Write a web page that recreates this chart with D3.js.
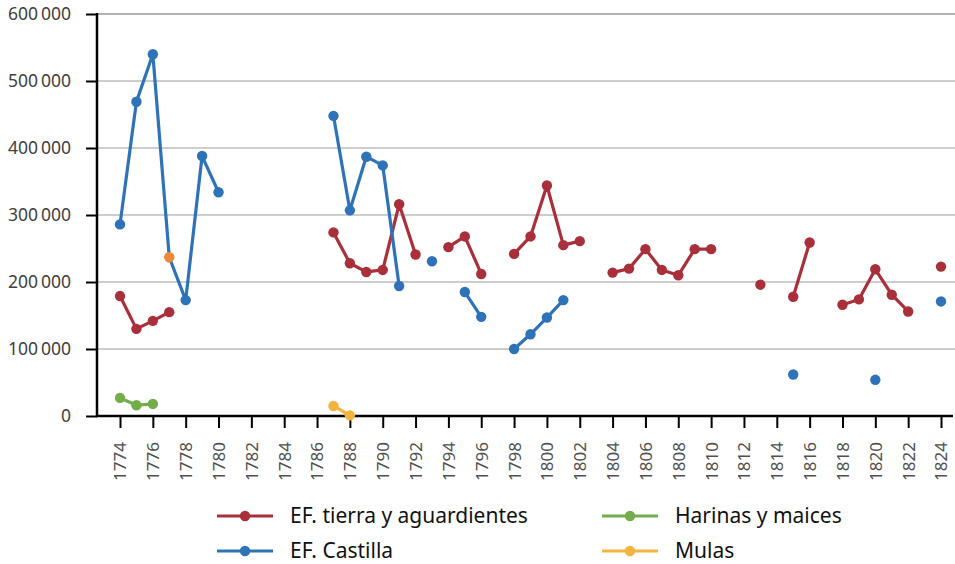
<!DOCTYPE html>
<html>
<head>
<meta charset="utf-8">
<script src="https://cdn.jsdelivr.net/npm/d3@7"></script>
<style>
  body { margin: 0; background: #fff; }
  text { font-family: "Noto Sans", sans-serif; }
</style>
</head>
<body>
<svg id="chart" width="955" height="564"></svg>
<script>
// years 1774..1824, null = no data
var years = d3.range(1774, 1825);
var xTickLabels = d3.range(1774, 1825, 2);
var yTicks = [0, 100000, 200000, 300000, 400000, 500000, 600000];

var tierra = [
  179000, 130000, 142000, 155000, null, null, null, null, null, null,
  null, null, null, 274000, 228000, 215000, 218000, 316000, 241000, null,
  252000, 268000, 212000, null, 242000, 268000, 344000, 255000, 261000, null,
  214000, 220000, 249000, 218000, 210000, 249000, 249000, null, null, 196000,
  null, 178000, 259000, null, 166000, 174000, 219000, 181000, 156000, null,
  223000
];
var castilla = [
  286000, 469000, 540000, 237000, 173000, 388000, 334000, null, null, null,
  null, null, null, 448000, 307000, 387000, 374000, 194000, null, 231000,
  null, 185000, 148000, null, 100000, 122000, 147000, 173000, null, null,
  null, null, null, null, null, null, null, null, null, null,
  null, 62000, null, null, null, null, 54000, null, null, null,
  171000
];
var harinas = [27000, 16000, 18000];
var mulas = [
  null, null, null, null, null, null, null, null, null, null,
  null, null, null, 15000, 1000
];
// single point drawn in orange on the Castilla line (1777)
var highlightYear = 1777;

var series = [
  { name: "EF. tierra y aguardientes", color: "#a9303b", values: tierra },
  { name: "EF. Castilla", color: "#2e73b8", values: castilla },
  { name: "Harinas y maices", color: "#72ad4a", values: harinas },
  { name: "Mulas", color: "#f3b43f", values: mulas }
];

var svg = d3.select("#chart");
var mLeft = 97, mRight = 953, mTop = 14, mBottom = 416;

var x = d3.scaleLinear().domain([1774, 1824]).range([120, 941]);
var y = d3.scaleLinear().domain([0, 600000]).range([mBottom, mTop]);

// gridlines
svg.append("g").selectAll("line")
  .data(yTicks.slice(1))
  .enter().append("line")
  .attr("x1", mLeft).attr("x2", 955)
  .attr("y1", function (d) { return y(d); })
  .attr("y2", function (d) { return y(d); })
  .attr("stroke", function (d) { return d === 600000 ? "#999" : "#bdbdbd"; })
  .attr("stroke-width", 1.5);

// y axis
var yAxis = d3.axisLeft(y).tickValues(yTicks).tickSize(11).tickPadding(15)
  .tickFormat(function (d) { return d3.format(",")(d).replace(/,/g, "\u2009"); });
var gy = svg.append("g").attr("transform", "translate(" + mLeft + ",0)").call(yAxis);
gy.select(".domain").remove();
gy.selectAll(".tick line").attr("stroke", "#000").attr("stroke-width", 2);
gy.selectAll(".tick text").attr("font-size", 17.5).attr("fill", "#404040")
  .attr("font-family", "'Noto Sans', sans-serif");
svg.append("line").attr("x1", mLeft).attr("x2", mLeft).attr("y1", mTop - 1).attr("y2", mBottom + 1)
  .attr("stroke", "#000").attr("stroke-width", 2.5);

// x axis
var xAxis = d3.axisBottom(x).tickValues(xTickLabels).tickSize(12).tickPadding(4)
  .tickFormat(d3.format("d"));
var gx = svg.append("g").attr("transform", "translate(0," + mBottom + ")").call(xAxis);
gx.select(".domain").remove();
gx.selectAll(".tick line").attr("stroke", "#000").attr("stroke-width", 2);
gx.selectAll(".tick text")
  .attr("font-size", 17).attr("fill", "#505050")
  .attr("font-family", "'Noto Sans', sans-serif")
  .attr("transform", "rotate(-90)")
  .attr("text-anchor", "end")
  .attr("x", -26).attr("y", 0).attr("dy", "0.35em");
svg.append("line").attr("x1", mLeft - 1).attr("x2", mRight).attr("y1", mBottom).attr("y2", mBottom)
  .attr("stroke", "#000").attr("stroke-width", 2.5);

// lines + markers
var line = d3.line()
  .defined(function (d) { return d.v !== null; })
  .x(function (d) { return x(d.year); })
  .y(function (d) { return y(d.v); });

series.forEach(function (s) {
  var pts = s.values.map(function (v, i) { return { year: years[i], v: v }; });
  var g = svg.append("g");
  g.append("path").datum(pts)
    .attr("d", line)
    .attr("fill", "none")
    .attr("stroke", s.color)
    .attr("stroke-width", 3.2)
    .attr("stroke-linejoin", "round");
  g.selectAll("circle")
    .data(pts.filter(function (d) { return d.v !== null; }))
    .enter().append("circle")
    .attr("cx", function (d) { return x(d.year); })
    .attr("cy", function (d) { return y(d.v); })
    .attr("r", 5.2)
    .attr("fill", function (d) {
      return (s.values === castilla && d.year === highlightYear) ? "#ee8a35" : s.color;
    });
});

// legend
var legendItems = [
  { s: series[0], lx: 217, ly: 516 },
  { s: series[1], lx: 217, ly: 551 },
  { s: series[2], lx: 602, ly: 516 },
  { s: series[3], lx: 602, ly: 551 }
];
var lg = svg.append("g").selectAll("g").data(legendItems).enter().append("g")
  .attr("transform", function (d) { return "translate(" + d.lx + "," + d.ly + ")"; });
lg.append("line").attr("x1", 0).attr("x2", 56).attr("y1", 0).attr("y2", 0)
  .attr("stroke", function (d) { return d.s.color; }).attr("stroke-width", 3.2);
lg.append("circle").attr("cx", 28).attr("cy", 0).attr("r", 5.2)
  .attr("fill", function (d) { return d.s.color; });
lg.append("text").attr("x", 73).attr("y", 0).attr("dy", "0.35em")
  .attr("font-size", 21).attr("fill", "#111")
  .text(function (d) { return d.s.name; });
</script>
</body>
</html>
